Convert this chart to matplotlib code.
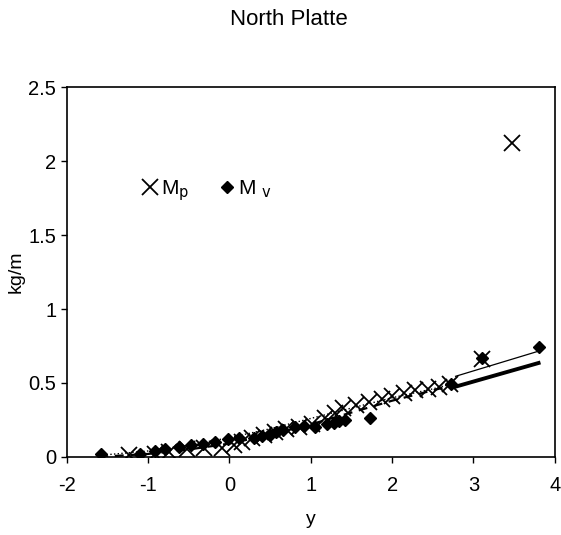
import numpy as np
import matplotlib.pyplot as plt

plt.rcParams['font.family'] = ['Liberation Sans', 'DejaVu Sans']
plt.rcParams['axes.unicode_minus'] = False

# Mp - крестики
mp_y = [-1.23, -0.92, -0.74, -0.52, -0.31, -0.09, 0.05, 0.16, 0.28, 0.42, 0.56, 0.7,
        0.86, 1.02, 1.18, 1.3, 1.39, 1.55, 1.72, 1.87, 2.0, 2.14, 2.28, 2.44, 2.58, 2.71,
        3.11, 3.47]
mp_v = [0.01, 0.02, 0.03, 0.05, 0.06, 0.06, 0.08, 0.1, 0.13, 0.15, 0.17, 0.19,
        0.2, 0.22, 0.26, 0.3, 0.33, 0.35, 0.37, 0.39, 0.41, 0.43, 0.45, 0.46, 0.47, 0.49,
        0.66, 2.12]

# Mv - ромбы
mv_y = [-1.58, -1.1, -0.91, -0.79, -0.62, -0.47, -0.33, -0.18, -0.02, 0.12, 0.3, 0.4,
        0.5, 0.57, 0.66, 0.8, 0.92, 1.05, 1.2, 1.28, 1.35, 1.42, 1.73, 2.72, 3.11, 3.81]
mv_v = [0.02, 0.02, 0.04, 0.05, 0.07, 0.08, 0.09, 0.1, 0.12, 0.13, 0.13, 0.14,
        0.15, 0.17, 0.18, 0.2, 0.21, 0.2, 0.22, 0.23, 0.24, 0.25, 0.26, 0.49, 0.67, 0.74]

# Кривые модели: левая часть (пунктир) и правая часть (сплошные)
left_y = [-1.6, -1.0, -0.5, 0.0, 0.5, 1.0, 1.5, 2.0, 2.5, 2.78]
left_dash_v = [0.0, 0.02, 0.05, 0.09, 0.15, 0.22, 0.3, 0.38, 0.45, 0.49]
left_dot_v = [0.01, 0.04, 0.08, 0.13, 0.19, 0.26, 0.33, 0.4, 0.46, 0.5]
right_y = [2.78, 3.8]
model_v = [0.475, 0.635]
upper_v = [0.545, 0.715]

fig = plt.figure(figsize=(5.61, 5.35), dpi=100)
ax = fig.add_axes([0.119, 0.146, 0.870, 0.691])

ax.plot(right_y, model_v, color='k', lw=2.8, zorder=2)
ax.plot(right_y, upper_v, color='k', lw=0.9, zorder=2)
ax.plot(left_y, left_dash_v, color='k', lw=1.6, ls=(0, (4, 3)), zorder=2)
ax.plot(left_y, left_dot_v, color='k', lw=1.0, ls=':', zorder=2)

ax.plot(mp_y, mp_v, ls='none', marker='x', ms=11, mew=1.3, color='k',
        label='M$_{\\rm p}$', zorder=3)
ax.plot(mv_y, mv_v, ls='none', marker='D', ms=6, color='k',
        label='M $_{\\rm v}$', zorder=3)

ax.set_xlim(-2, 4)
ax.set_ylim(0, 2.5)
ax.set_xticks([-2, -1, 0, 1, 2, 3, 4])
ax.set_yticks([0, 0.5, 1, 1.5, 2, 2.5])
ax.set_yticklabels(['0', '0.5', '1', '1.5', '2', '2.5'])
ax.tick_params(direction='out', length=4, labelsize=14.5, width=1)
ax.tick_params(axis='x', pad=10)
for s in ax.spines.values():
    s.set_linewidth(1.2)

ax.set_xlabel('y', fontsize=14, labelpad=11)
ax.set_ylabel('kg/m', fontsize=14, labelpad=3)

ax.legend(loc='center left', bbox_to_anchor=(0.11, 0.72), ncol=2, frameon=False,
          fontsize=15, handletextpad=0.05, columnspacing=1.3, handlelength=1.0)

fig.text(0.515, 0.963, 'North Platte', ha='center', va='center', fontsize=16)

fig.savefig('out.png', dpi=100)
